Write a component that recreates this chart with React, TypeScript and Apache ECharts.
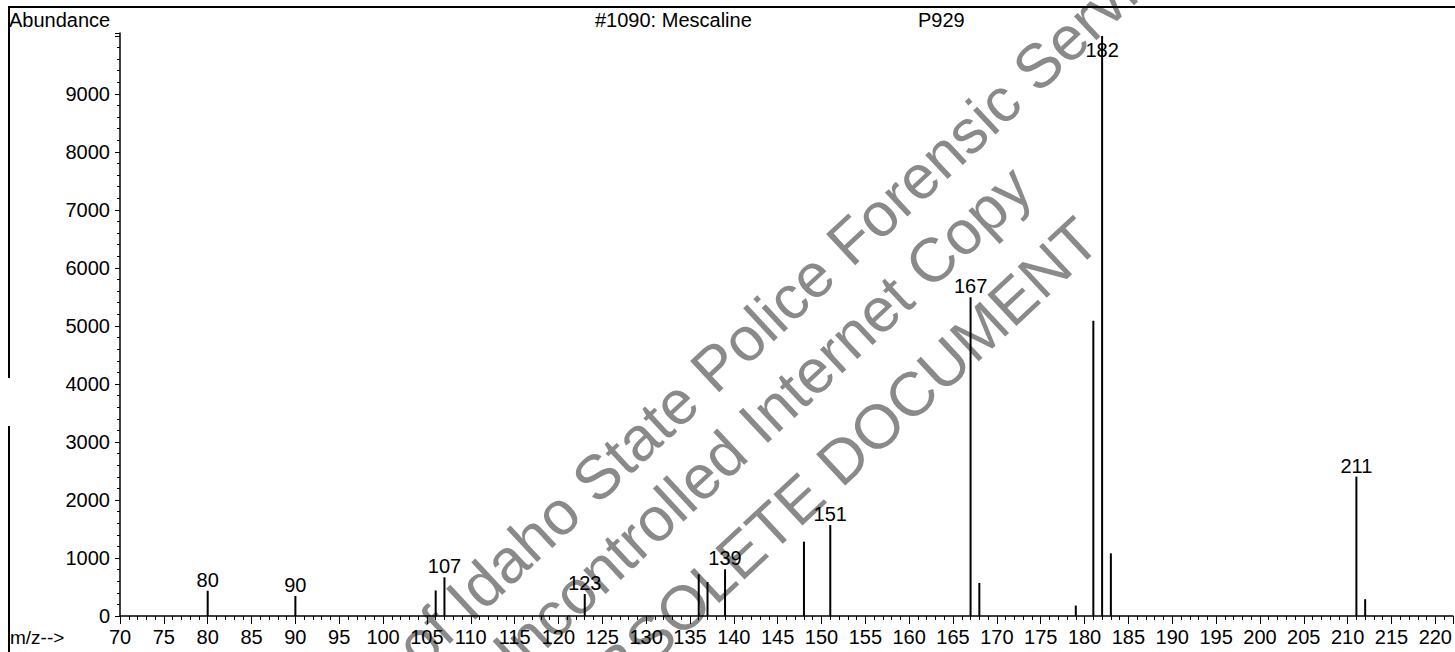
import React, { useEffect, useRef } from "react";
import * as echarts from "echarts";

// m/z values and their abundances
const mzValues = [80, 90, 106, 107, 123, 136, 137, 139, 148, 151, 167, 168, 179, 181, 182, 183, 211, 212];
const abundances = [436, 345, 440, 667, 380, 719, 586, 805, 1281, 1569, 5495, 570, 180, 5091, 10000, 1080, 2402, 290];
// peaks that carry an m/z label
const labeledMz = [80, 90, 107, 123, 139, 151, 167, 182, 211];
// peak whose label sits inside the plot top (base peak)
const basePeakMz = 182;

const titleText = "#1090: Mescaline";
const sampleText = "P929";
const yAxisTitle = "Abundance";
const xAxisTitle = "m/z-->";
const watermarkLines = [
  "of Idaho State Police Forensic Services",
  "Uncontrolled Internet Copy",
  "OBSOLETE DOCUMENT",
];

const X_MIN = 70;
const X_MAX = 222;
const Y_MAX = 10050;

const FONT = "'Liberation Sans', Arial, Helvetica, sans-serif";

export default function App() {
  const ref = useRef<HTMLDivElement>(null);

  useEffect(() => {
    if (!ref.current) return;
    const chart = echarts.init(ref.current, undefined, { renderer: "svg" });

    const data = mzValues.map((mz, i) => {
      const item: any = { value: [mz, abundances[i]] };
      if (labeledMz.includes(mz)) {
        item.label = {
          show: true,
          position: mz === basePeakMz ? "insideTop" : "top",
          distance: mz === basePeakMz ? 4 : 1,
          formatter: String(mz),
          color: "#000",
          fontSize: 20,
          fontFamily: FONT,
        };
      }
      return item;
    });

    const ang = (43 * Math.PI) / 180;
    const wmStarts = [
      [406, 655],
      [482, 680],
      [570, 713],
    ];

    const option: any = {
      animation: false,
      backgroundColor: "#fff",
      grid: { left: 120, right: 0, top: 33, bottom: 36, containLabel: false },
      xAxis: {
        type: "value",
        min: X_MIN,
        max: X_MAX,
        interval: 5,
        z: 3,
        axisLine: { show: true, onZero: false, lineStyle: { color: "#000", width: 1.5 } },
        axisTick: { show: true, length: 8, lineStyle: { color: "#000", width: 1 } },
        minorTick: { show: true, splitNumber: 5, length: 4, lineStyle: { color: "#000", width: 1 } },
        splitLine: { show: false },
        minorSplitLine: { show: false },
        axisLabel: {
          color: "#000",
          fontSize: 20,
          fontFamily: FONT,
          margin: 11,
          showMaxLabel: false,
          formatter: (v: number) => (v % 5 === 0 && v <= 220 ? String(v) : ""),
        },
      },
      yAxis: {
        type: "value",
        min: 0,
        max: Y_MAX,
        interval: 1000,
        z: 3,
        axisLine: { show: true, lineStyle: { color: "#000", width: 1.5 } },
        axisTick: { show: true, length: 5, lineStyle: { color: "#000", width: 1 } },
        minorTick: { show: true, splitNumber: 5, length: 3, lineStyle: { color: "#000", width: 1 } },
        splitLine: { show: false },
        axisLabel: {
          color: "#000",
          fontSize: 20,
          fontFamily: FONT,
          margin: 10,
          formatter: (v: number) => (v <= 9000 ? String(v) : ""),
        },
      },
      series: [
        {
          type: "bar",
          data,
          barWidth: 2,
          z: 5,
          itemStyle: { color: "#000" },
          label: { show: false },
        },
      ],
      graphic: [
        // frame
        { type: "line", z: 4, shape: { x1: 8, y1: 7, x2: 1455, y2: 7 }, style: { stroke: "#000", lineWidth: 2 } },
        { type: "line", z: 4, shape: { x1: 9, y1: 7, x2: 9, y2: 378 }, style: { stroke: "#000", lineWidth: 2 } },
        { type: "line", z: 4, shape: { x1: 9, y1: 426, x2: 9, y2: 652 }, style: { stroke: "#000", lineWidth: 2 } },
        // header texts
        {
          type: "text", z: 4, x: 9, y: 20,
          style: { text: yAxisTitle, fill: "#000", font: `20px ${FONT}`, textAlign: "left", textVerticalAlign: "middle" },
        },
        {
          type: "text", z: 4, x: 595, y: 20,
          style: { text: titleText, fill: "#000", font: `20px ${FONT}`, textAlign: "left", textVerticalAlign: "middle" },
        },
        {
          type: "text", z: 4, x: 918, y: 20,
          style: { text: sampleText, fill: "#000", font: `20px ${FONT}`, textAlign: "left", textVerticalAlign: "middle" },
        },
        {
          type: "text", z: 4, x: 10, y: 637,
          style: { text: xAxisTitle, fill: "#000", font: `19px ${FONT}`, textAlign: "left", textVerticalAlign: "middle" },
        },
        // watermark
        ...watermarkLines.map((t, i) => ({
          type: "text",
          z: 1,
          x: wmStarts[i][0],
          y: wmStarts[i][1],
          rotation: ang,
          style: {
            text: t,
            fill: "#8a8a8a",
            font: `62px ${FONT}`,
            textAlign: "left",
            textVerticalAlign: "middle",
          },
        })),
      ],
    };

    chart.setOption(option);
    return () => chart.dispose();
  }, []);

  return (
    <div
      ref={ref}
      style={{ position: "absolute", left: 0, top: 0, width: 1455, height: 652, background: "#fff" }}
    />
  );
}
